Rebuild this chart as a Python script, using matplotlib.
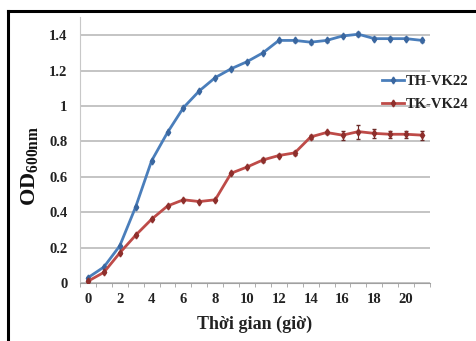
import matplotlib
matplotlib.use("Agg")
import matplotlib.pyplot as plt
from matplotlib.lines import Line2D
import numpy as np

plt.rcParams['font.family'] = ['Liberation Serif', 'DejaVu Serif']
plt.rcParams['font.weight'] = 'bold'
plt.rcParams['mathtext.fontset'] = 'custom'
plt.rcParams['mathtext.rm'] = 'Liberation Serif:bold'
plt.rcParams['mathtext.it'] = 'Liberation Serif:bold'
plt.rcParams['mathtext.bf'] = 'Liberation Serif:bold'

hours = list(range(22))
th_vk22 = [0.03, 0.09, 0.21, 0.43, 0.69, 0.85, 0.99, 1.085, 1.16, 1.21, 1.25, 1.30,
           1.37, 1.37, 1.36, 1.37, 1.395, 1.405, 1.38, 1.38, 1.38, 1.37]
th_err = [0.005, 0.005, 0.005, 0.005, 0.005, 0.005, 0.005, 0.005, 0.005, 0.005, 0.005, 0.005,
          0.008, 0.008, 0.008, 0.008, 0.008, 0.01, 0.008, 0.008, 0.008, 0.01]
tk_vk24 = [0.01, 0.06, 0.17, 0.27, 0.36, 0.435, 0.47, 0.46, 0.47, 0.62, 0.655, 0.695,
           0.72, 0.735, 0.825, 0.85, 0.835, 0.855, 0.845, 0.84, 0.84, 0.835]
tk_err = [0.005, 0.005, 0.005, 0.005, 0.005, 0.005, 0.005, 0.005, 0.005, 0.005, 0.005, 0.01,
          0.01, 0.01, 0.01, 0.01, 0.025, 0.04, 0.025, 0.02, 0.02, 0.025]
yticks = [0, 0.2, 0.4, 0.6, 0.8, 1.0, 1.2, 1.4]
ytick_labels = ['0', '0.2', '0.4', '0.6', '0.8', '1', '1.2', '1.4']
xticks = list(range(0, 21, 2))
series_names = ['TH-VK22', 'TK-VK24']

W, H = 476, 341
fig = plt.figure(figsize=(W / 100, H / 100), dpi=100)
ax = fig.add_axes([80 / W, 1 - 283 / H, 350 / W, (283 - 17.4) / H])

blue = '#4A7EBB'
red = '#BE4B48'
blue_m = '#3A67A0'
red_m = '#8E2F2C'
ax.errorbar(hours, th_vk22, yerr=th_err, color=blue, lw=2.0, marker='d', ms=3.5,
            mfc=blue_m, mec=blue_m, ecolor='#3A5F8F', elinewidth=0.8, capsize=1.5,
            zorder=3)
ax.errorbar(hours, tk_vk24, yerr=tk_err, color=red, lw=2.0, marker='d', ms=3.5,
            mfc=red_m, mec=red_m, ecolor='#6A2A28', elinewidth=0.8, capsize=1.5,
            zorder=3)

ax.set_xlim(-0.5, 21.5)
ax.set_ylim(0, 1.5)
ax.set_yticks(yticks)
ax.set_yticklabels(ytick_labels)
ax.set_xticks(xticks)
ax.set_xticklabels([str(x) for x in xticks])
ax.set_xticks(np.arange(-0.5, 22, 1), minor=True)
ax.yaxis.grid(True, color='#BFBFBF', lw=1.3)
ax.set_axisbelow(True)
for s in ['top', 'right']:
    ax.spines[s].set_visible(False)
ax.spines['left'].set_color('#C8C8C8')
ax.spines['bottom'].set_color('#A0A0A0')
ax.tick_params(axis='y', length=0, pad=9, labelsize=10.5, labelcolor='#222222')
ax.tick_params(axis='x', which='major', length=0, pad=7, labelsize=10.5, labelcolor='#222222')
ax.tick_params(axis='x', which='minor', length=3, color='#A0A0A0', direction='out')

ax.set_xlabel('Thời gian (giờ)', fontsize=13, fontweight='bold', labelpad=7, color='#222222')
fig.text(29 / W, 1 - 166 / H, r'OD$_{\mathrm{600nm}}$', rotation=90, fontsize=16,
         ha='center', va='center', color='#111111')

handles = [Line2D([], [], color=blue, lw=2.0, marker='d', ms=3.5, mfc=blue_m, mec=blue_m),
           Line2D([], [], color=red, lw=2.0, marker='d', ms=3.5, mfc=red_m, mec=red_m)]
leg = ax.legend(handles, series_names, loc='upper left',
                bbox_to_anchor=(296 / 350, (283 - 69) / (283 - 17.4)),
                frameon=False, fontsize=10.5, handlelength=1.5, handletextpad=0.15,
                labelspacing=0.65, borderaxespad=0)
for t in leg.get_texts():
    t.set_color('#222222')

fig.add_artist(Line2D([8 / W, 8 / W], [0, 1 - 11 / H], transform=fig.transFigure,
                      color='black', lw=2.2))
fig.add_artist(Line2D([8 / W, 1], [1 - 11 / H, 1 - 11 / H], transform=fig.transFigure,
                      color='black', lw=2.2))

fig.savefig('out.png', dpi=100)
